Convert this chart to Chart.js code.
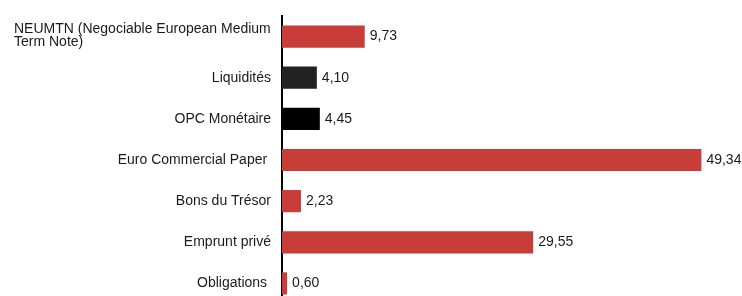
<!DOCTYPE html>
<html>
<head>
<meta charset="utf-8">
<script src="https://cdn.jsdelivr.net/npm/chart.js@4/dist/chart.umd.min.js"></script>
<style>
  html, body { margin: 0; padding: 0; background: #fff; overflow: hidden; }
  #wrap { position: relative; width: 742px; height: 310px; }
</style>
</head>
<body>
<div id="wrap"><canvas id="graphique"></canvas></div>
<script>
// Données
const categories = [
    ['NEUMTN (Negociable European Medium', 'Term Note)'],
    'Liquidités',
    'OPC Monétaire',
    'Euro Commercial Paper ',
    'Bons du Trésor',
    'Emprunt privé',
    'Obligations '
];
const valeurs = [9.73, 4.10, 4.45, 49.34, 2.23, 29.55, 0.60];
const couleurs = ['#c83d38', '#222222', '#000000', '#c83d38', '#c83d38', '#c83d38', '#c83d38'];

const POLICE = '14px "Liberation Sans", Arial, sans-serif';

// --- Libellés des catégories (à gauche de l'axe) ---
const libelles = {
    id: 'libelles',
    afterDraw(chart) {
        const ctx = chart.ctx;
        const y = chart.scales.y;
        ctx.save();
        ctx.font = POLICE;
        ctx.fillStyle = '#1a1a1a';
        ctx.textBaseline = 'middle';
        categories.forEach(function(cat, i) {
            const py = y.getPixelForValue(i);
            if (Array.isArray(cat)) {
                ctx.textAlign = 'left';
                const h = 12.5;
                const debut = py - (cat.length - 1) * h / 2;
                cat.forEach(function(ligne, j) {
                    ctx.fillText(ligne, 14, debut + j * h - 1);
                });
            } else {
                ctx.textAlign = 'right';
                ctx.fillText(cat, 271, py);
            }
        });
        ctx.restore();
    }
};

// --- Valeurs au bout des barres ---
const etiquettes = {
    id: 'etiquettes',
    afterDatasetsDraw(chart) {
        const ctx = chart.ctx;
        const meta = chart.getDatasetMeta(0);
        ctx.save();
        ctx.font = POLICE;
        ctx.fillStyle = '#1a1a1a';
        ctx.textAlign = 'left';
        ctx.textBaseline = 'middle';
        meta.data.forEach(function(barre, i) {
            const txt = valeurs[i].toFixed(2).replace('.', ',');
            ctx.fillText(txt, barre.x + 5, barre.y);
        });
        ctx.restore();
    }
};

const canvasElement = document.getElementById('graphique');
const ctx = canvasElement.getContext('2d');

new Chart(ctx, {
    type: 'bar',
    data: {
        labels: categories,
        datasets: [{
            data: valeurs,
            backgroundColor: couleurs,
            borderWidth: 0,
            categoryPercentage: 1,
            barPercentage: 0.54
        }]
    },
    options: {
        indexAxis: 'y',
        responsive: true,
        maintainAspectRatio: false,
        animation: false,
        layout: { padding: { top: 16, bottom: 6, right: 1, left: 0 } },
        plugins: {
            legend: { display: false },
            tooltip: { enabled: false }
        },
        scales: {
            x: {
                display: false,
                min: 0,
                max: 54
            },
            y: {
                grid: { display: false, drawTicks: false },
                border: { display: true, color: '#000', width: 2 },
                ticks: { display: false },
                afterFit: function(scale) { scale.width = 282; }
            }
        }
    },
    plugins: [libelles, etiquettes]
});
</script>
</body>
</html>
